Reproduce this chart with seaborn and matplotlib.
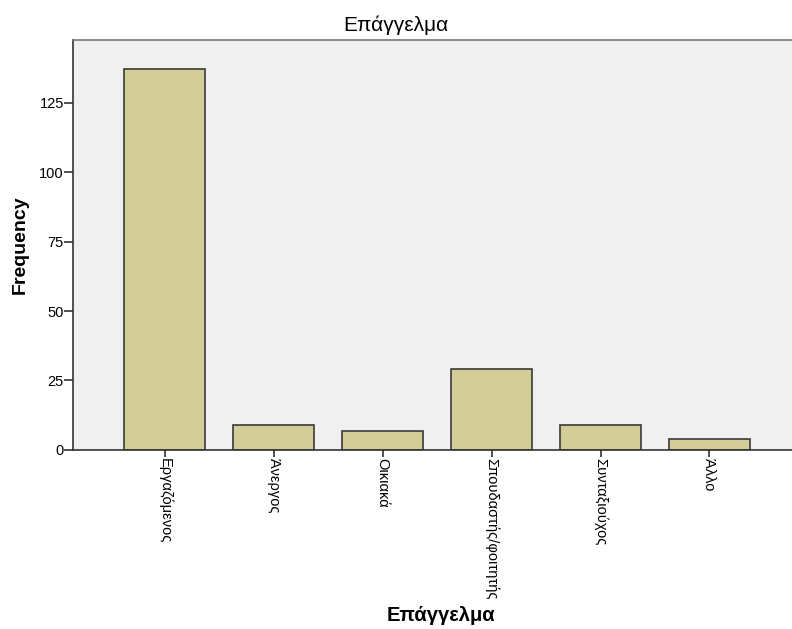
"""
Bar chart of respondent occupation counts (SPSS style).
"""
import pandas as pd
import seaborn as sns
import matplotlib.pyplot as plt

# Occupation categories and their frequencies
categories = ['Εργαζόμενος', 'Άνεργος', 'Οικιακά',
              'Σπουδαστής/φοιτητής', 'Συνταξιούχος', 'Άλλο']
counts = [137, 9, 7, 29, 9, 4]

BAR_COLOR = '#D3CE97'
EDGE_COLOR = '#3a3a3a'
BG_COLOR = '#F0F0F0'


def plot_bar():
    """
    Draws the occupation frequency barplot and saves it as out.png.
    """
    sns.set_style('white')
    plt.rcParams['font.family'] = ['Liberation Sans', 'DejaVu Sans']
    plt.rcParams['text.color'] = 'black'
    plt.rcParams['axes.labelcolor'] = 'black'
    plt.rcParams['xtick.color'] = 'black'
    plt.rcParams['ytick.color'] = 'black'

    data = pd.DataFrame({'Επάγγελμα': categories, 'Frequency': counts})

    fig = plt.figure(figsize=(7.92, 6.29), dpi=100)
    ax = fig.add_axes([0.0922, 0.2846, 0.9078, 0.6518])
    ax.set_facecolor(BG_COLOR)

    sns.barplot(x='Επάγγελμα', y='Frequency', data=data, ax=ax,
                color=BAR_COLOR, edgecolor=EDGE_COLOR, linewidth=1.2,
                width=0.743, saturation=1)

    ax.set_xlim(-0.84, 5.757)
    ax.set_ylim(0, 147.5)
    ax.set_yticks([0, 25, 50, 75, 100, 125])

    for side in ['left', 'bottom']:
        ax.spines[side].set_color('#333333')
        ax.spines[side].set_linewidth(1.2)
    ax.spines['top'].set_color('#777777')
    ax.spines['top'].set_linewidth(1.2)
    ax.spines['right'].set_visible(False)

    ax.tick_params(axis='y', direction='out', length=6.5, width=1.2,
                   color='#333333', labelsize=10.5, pad=0, left=True)
    ax.tick_params(axis='x', direction='out', length=5, width=1.2,
                   color='#333333', labelsize=10.5, pad=1, bottom=True)
    plt.setp(ax.get_xticklabels(), rotation=270, va='top', ha='center')

    # SPSS centres the chart title on the whole figure
    fig.text(0.5, 1 - 31 / 629, 'Επάγγελμα', fontsize=15,
             ha='center', va='baseline')
    ax.set_xlabel('Επάγγελμα', fontsize=14.5, fontweight='bold')
    ax.set_ylabel('Frequency', fontsize=14, fontweight='bold')
    ax.xaxis.set_label_coords(0.512, -0.404)
    ax.xaxis.label.set_va('center')
    ax.yaxis.set_label_coords(-0.074, 0.5)
    ax.yaxis.label.set_va('center')

    plt.savefig('out.png', dpi=100)


if __name__ == '__main__':
    plot_bar()
